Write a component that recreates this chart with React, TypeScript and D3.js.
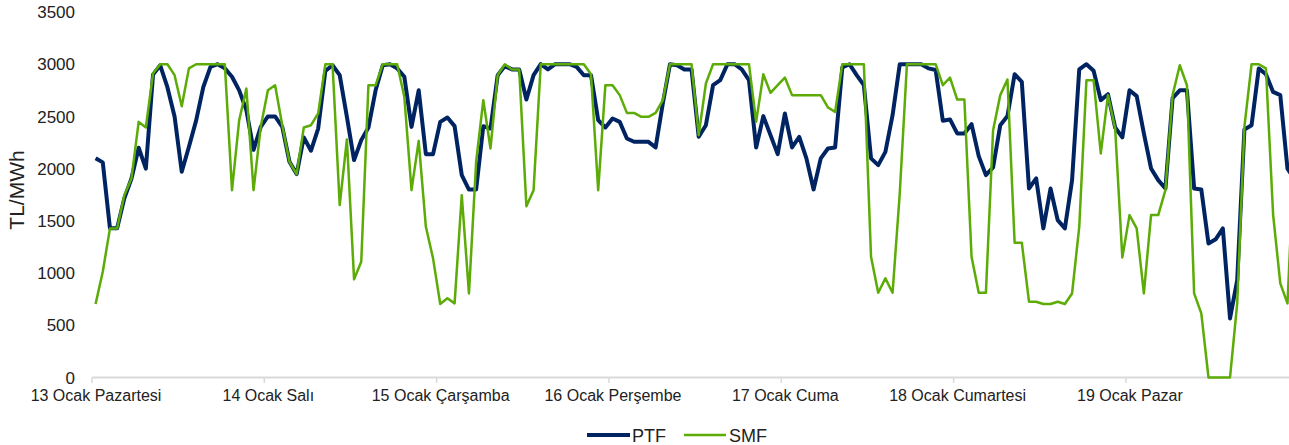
import React from "react";
import * as d3 from "d3";

// hourly prices, 13-19 Ocak (7 x 24 hours)
const dayLabels = [
  "13 Ocak Pazartesi",
  "14 Ocak Salı",
  "15 Ocak Çarşamba",
  "16 Ocak Perşembe",
  "17 Ocak Cuma",
  "18 Ocak Cumartesi",
  "19 Ocak Pazar",
];

const yTicks = [0, 500, 1000, 1500, 2000, 2500, 3000, 3500];

const ptf = [
  2100, 2060, 1430, 1430, 1715, 1906, 2200, 2000, 2900, 2990, 2780, 2500,
  1970, 2210, 2460, 2780, 2975, 3000, 2960, 2880, 2750, 2560, 2180, 2400,
  2500, 2500, 2400, 2066, 1948, 2299, 2172, 2384, 2937, 2990, 2895, 2496,
  2082, 2273, 2394, 2750, 2990, 3000, 2960, 2880, 2400, 2750, 2139, 2139,
  2448, 2490, 2407, 1938, 1800, 1800, 2407, 2384, 2895, 2982, 2950, 2950,
  2662, 2895, 3000, 2950, 3000, 3000, 3000, 2975, 2895, 2895, 2464, 2394,
  2480, 2448, 2289, 2257, 2257, 2257, 2203, 2624, 3000, 2990, 2950, 2950,
  2305, 2416, 2799, 2847, 3000, 3000, 2950, 2847, 2203, 2503, 2321, 2139,
  2528, 2203, 2305, 2098, 1801, 2098, 2193, 2203, 2970, 3000, 2895, 2799,
  2098, 2034, 2161, 2512, 3000, 3000, 3000, 3000, 2960, 2944, 2458, 2471,
  2337, 2337, 2426, 2120, 1938, 2011, 2416, 2503, 2904, 2831, 1810, 1906,
  1428, 1810, 1507, 1428, 1890, 2950, 3000, 2937, 2656, 2713, 2394, 2299,
  2750, 2694, 2337, 2002, 1890, 1810, 2675, 2750, 2750, 1810, 1801, 1284,
  1323, 1428, 566, 933, 2375, 2416, 2960, 2904, 2735, 2704, 2000, 1900,
];

const smf = [
  704, 1013, 1428, 1428, 1746, 1906, 2448, 2394, 2911, 3000, 3000, 2895,
  2598, 2960, 3000, 3000, 3000, 3000, 3000, 1794, 2464, 2767, 1794, 2400,
  2750, 2799, 2416, 2066, 1948, 2394, 2416, 2528, 3000, 3000, 1651, 2279,
  940, 1109, 2799, 2799, 3000, 3000, 3000, 2688, 1794, 2266, 1443, 1141,
  704, 758, 710, 1746, 805, 2066, 2656, 2193, 2895, 3000, 2950, 2950,
  1641, 1794, 3000, 3000, 3000, 3000, 3000, 3000, 3000, 2904, 1794, 2799,
  2799, 2704, 2534, 2534, 2496, 2496, 2534, 2656, 3000, 3000, 3000, 3000,
  2321, 2815, 3000, 3000, 3000, 3000, 3000, 3000, 2448, 2904, 2726, 2799,
  2872, 2704, 2704, 2704, 2704, 2704, 2586, 2544, 3000, 3000, 3000, 3000,
  1156, 812, 949, 812, 1762, 3000, 3000, 3000, 3000, 3000, 2799, 2872,
  2662, 2662, 1156, 812, 812, 2368, 2704, 2854, 1291, 1291, 726, 726,
  704, 704, 726, 704, 805, 1443, 2847, 2847, 2145, 2704, 2384, 1150,
  1555, 1428, 805, 1555, 1555, 1794, 2704, 2990, 2799, 805, 614, 0,
  0, 0, 0, 710, 2400, 3000, 3000, 2960, 1560, 901, 710, 2200,
];

const W = 1289;
const H = 445;
const left = 92;
const hoursPerDay = 24;
const nHours = dayLabels.length * hoursPerDay;

const PTF_COLOR = "#002462";
const SMF_COLOR = "#5cab06";
const FONT = "'Liberation Sans', Arial, sans-serif";

const App = () => {
  const x = d3.scaleLinear().domain([0, nHours]).range([left, left + nHours * 7.18]);
  const y = d3.scaleLinear().domain([0, 3500]).range([377.5, 12]);

  const line = d3
    .line<number>()
    .x((d, i) => x(i + 0.5))
    .y((d) => y(d));

  const dayStarts = d3.range(0, nHours, hoursPerDay);

  return (
    <svg
      width={W}
      height={H}
      style={{ position: "absolute", left: 0, top: 0, background: "#fff" }}
      fontFamily={FONT}
    >
      {/* y tick labels */}
      {yTicks.map((t) => (
        <text
          key={t}
          x={75}
          y={y(t)}
          dy="0.36em"
          textAnchor="end"
          fontSize={17}
          fill="#222"
        >
          {t}
        </text>
      ))}

      <text
        transform={`translate(24,190) rotate(-90)`}
        textAnchor="middle"
        fontSize={21}
        fill="#222"
      >
        TL/MWh
      </text>

      {/* x axis */}
      <line x1={left} x2={W} y1={377.5} y2={377.5} stroke="#d9d9d9" strokeWidth={2} />
      {dayStarts.map((d) => (
        <line
          key={d}
          x1={x(d)}
          x2={x(d)}
          y1={377.5}
          y2={383}
          stroke="#d9d9d9"
          strokeWidth={1.5}
        />
      ))}
      {dayStarts.map((d, i) => (
        <text
          key={"l" + d}
          x={x(d) + 4}
          y={401}
          textAnchor="middle"
          fontSize={16}
          fill="#222"
        >
          {dayLabels[i]}
        </text>
      ))}

      {/* series */}
      <path
        d={line(ptf) || ""}
        fill="none"
        stroke={PTF_COLOR}
        strokeWidth={4}
        strokeLinejoin="round"
      />
      <path
        d={line(smf) || ""}
        fill="none"
        stroke={SMF_COLOR}
        strokeWidth={2.5}
        strokeLinejoin="round"
      />

      {/* legend */}
      <line x1={587} x2={630} y1={435} y2={435} stroke={PTF_COLOR} strokeWidth={4} />
      <text x={632} y={441.5} fontSize={18} fill="#222">
        PTF
      </text>
      <line x1={684} x2={726} y1={435} y2={435} stroke={SMF_COLOR} strokeWidth={2.5} />
      <text x={729} y={441.5} fontSize={18} fill="#222">
        SMF
      </text>
    </svg>
  );
};

export default App;
